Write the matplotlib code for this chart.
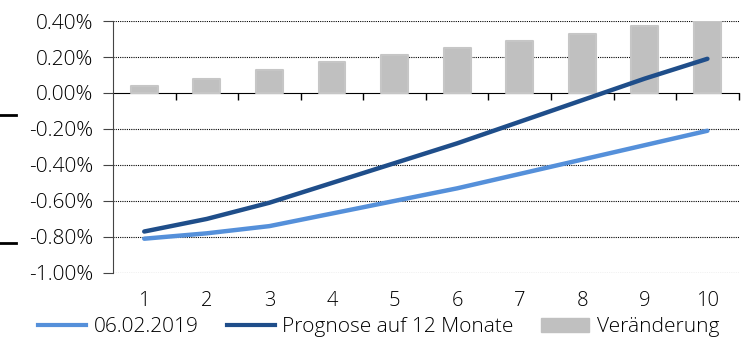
import matplotlib.pyplot as plt
from matplotlib.lines import Line2D
from matplotlib.patches import Patch
from matplotlib.transforms import blended_transform_factory

plt.rcParams['font.family'] = ['Open Sans', 'DejaVu Sans']
plt.rcParams['font.weight'] = 'light'

# Laufzeiten in Jahren
laufzeit = [1, 2, 3, 4, 5, 6, 7, 8, 9, 10]
# Renditen in %
rendite_aktuell = [-0.81, -0.78, -0.74, -0.67, -0.60, -0.53, -0.45, -0.37, -0.29, -0.21]
rendite_prognose = [-0.77, -0.70, -0.61, -0.50, -0.39, -0.28, -0.16, -0.04, 0.08, 0.19]
veraenderung = [0.04, 0.08, 0.13, 0.17, 0.21, 0.25, 0.29, 0.33, 0.37, 0.40]
y_ticks = [0.4, 0.2, 0.0, -0.2, -0.4, -0.6, -0.8, -1.0]

hell = '#5590da'
dunkel = '#1f4e8a'
grau = '#c0c0c0'

fig = plt.figure(figsize=(7.53, 3.39), dpi=100)
ax = fig.add_axes([0.150, 0.195, 0.831, 0.743])

ax.bar(laufzeit, veraenderung, width=0.43, color=grau, edgecolor='#c6c6c6',
       linewidth=1.5, joinstyle='round', zorder=2)
ax.plot(laufzeit, rendite_aktuell, color=hell, lw=3.2, solid_capstyle='round', zorder=3)
ax.plot(laufzeit, rendite_prognose, color=dunkel, lw=3.2, solid_capstyle='round', zorder=3)

ax.set_xlim(0.5, 10.5)
ax.set_ylim(-1.0, 0.4)
ax.set_yticks(y_ticks)
ax.set_yticklabels([f'{v:.2f}%' for v in y_ticks], fontsize=15)
for v in y_ticks:
    if v != 0:
        ax.axhline(v, color='black', lw=0.8, ls=(0, (1, 1)), zorder=1)

for s in ['top', 'right']:
    ax.spines[s].set_visible(False)
ax.spines['left'].set_color('#444444')
ax.spines['bottom'].set_position(('data', 0))
ax.spines['bottom'].set_color('black')
ax.spines['bottom'].set_zorder(1)

ax.set_xticks([i + 0.5 for i in laufzeit])
ax.set_xticklabels([])
ax.tick_params(axis='x', length=5, width=1, direction='out', color='black')
ax.tick_params(axis='y', length=7, width=0.8, direction='out', color='#444444', pad=7)

trans = blended_transform_factory(ax.transData, ax.transAxes)
for x in laufzeit:
    ax.text(x, -0.11, str(x), transform=trans, ha='center', va='center', fontsize=14.5)

handles = [
    Line2D([0], [0], color=hell, lw=3),
    Line2D([0], [0], color=dunkel, lw=3),
    Patch(facecolor=grau, edgecolor=grau),
]
fig.legend(handles, ['06.02.2019', 'Prognose auf 12 Monate', 'Veränderung'],
           loc='center', bbox_to_anchor=(0.503, 0.035), ncol=3, frameon=False,
           fontsize=15, handlelength=2.3, handletextpad=0.35, columnspacing=1.35)

# kurze Markierungen am linken Rand
fig.add_artist(Line2D([0.0, 0.021], [1 - 115 / 339] * 2, color='black', lw=2))
fig.add_artist(Line2D([0.0, 0.021], [1 - 243 / 339] * 2, color='black', lw=2))

fig.savefig('out.png', dpi=100)
